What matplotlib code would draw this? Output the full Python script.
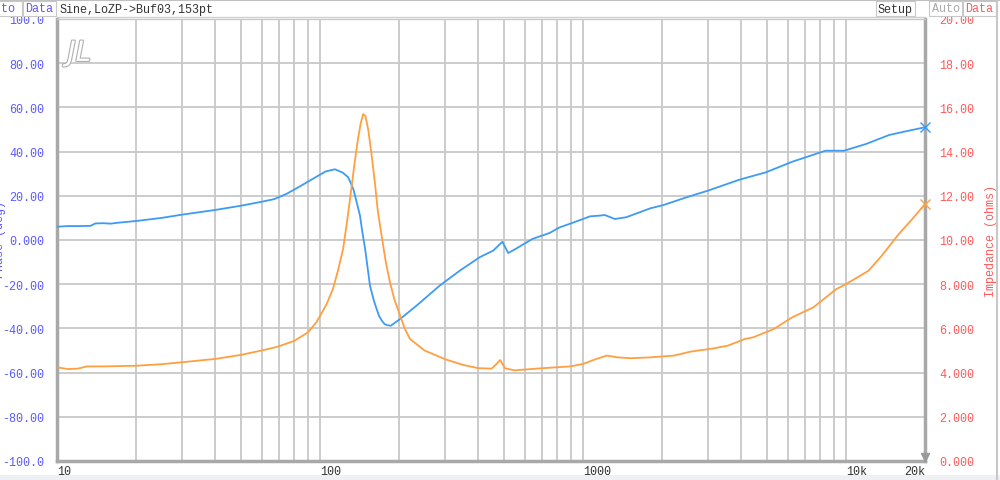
import numpy as np
import matplotlib
matplotlib.use("Agg")
import matplotlib.pyplot as plt
from matplotlib.ticker import NullLocator
import matplotlib.patheffects as pe
from matplotlib.patches import Rectangle

# ---- data ----
phase_freq = [10, 11, 12, 13.4, 14, 15, 16, 17, 20, 25, 30, 40, 50, 60, 67, 75, 84, 95, 105,
              114, 122, 128, 134, 138, 142, 145, 148.5, 155, 160, 164, 168, 172, 176, 180,
              186, 202, 233, 285, 340, 405, 456, 494, 520, 559, 643, 748, 815, 900, 1000,
              1064, 1150, 1212, 1323, 1462, 1801, 2022, 2475, 2985, 3940, 4960, 6250, 7660,
              8370, 9850, 11900, 14600, 17400, 20000]
phase_deg = [6.0, 6.3, 6.3, 6.4, 7.5, 7.6, 7.4, 7.8, 8.6, 10.0, 11.5, 13.6, 15.5, 17.3, 18.5,
             21.0, 24.3, 28.0, 31.0, 32.0, 30.5, 28.4, 23.0, 17.0, 11.0, 3.5, -4.0, -20.7,
             -27.0, -31.0, -34.5, -36.5, -38.0, -38.5, -38.8, -35.7, -29.7, -20.7, -13.9,
             -7.8, -4.8, -0.8, -5.9, -3.8, 0.5, 3.2, 5.7, 7.5, 9.5, 10.7, 11.0, 11.3, 9.5,
             10.3, 14.3, 15.8, 19.3, 22.3, 27.3, 30.6, 35.4, 38.9, 40.4, 40.4, 43.4, 47.5,
             49.5, 51.0]

imp_freq = [10, 11, 12, 13, 15, 20, 25, 30, 40, 50, 60, 69, 80, 90, 97, 101, 106, 112, 117,
            122.5, 127, 131.6, 135.5, 139.5, 143, 146, 149, 152.6, 157, 161.8, 166, 171.6,
            178, 184.6, 192, 202, 210, 220, 250, 300, 350, 400, 450, 470, 485, 505, 550,
            684, 794, 894, 1000, 1126, 1234, 1354, 1525, 1801, 2220, 2570, 3160, 3560,
            4130, 4450, 5320, 6250, 7520, 8250, 9200, 10000, 12200, 13700, 15900, 17900,
            20000]
imp_ohm = [4.24, 4.16, 4.18, 4.28, 4.28, 4.31, 4.38, 4.47, 4.62, 4.8, 5.0, 5.17, 5.44, 5.82,
           6.28, 6.65, 7.1, 7.78, 8.6, 9.6, 10.9, 12.3, 13.5, 14.57, 15.3, 15.7, 15.6, 15.0,
           13.9, 12.6, 11.3, 10.2, 9.0, 8.09, 7.3, 6.57, 6.0, 5.52, 5.0, 4.6, 4.35, 4.2,
           4.18, 4.4, 4.57, 4.2, 4.1, 4.19, 4.24, 4.28, 4.39, 4.62, 4.77, 4.69, 4.65, 4.69,
           4.77, 4.95, 5.1, 5.22, 5.52, 5.6, 5.97, 6.5, 6.95, 7.33, 7.78, 8.0, 8.61, 9.29,
           10.27, 10.95, 11.63]

left_ticks = [100, 80, 60, 40, 20, 0, -20, -40, -60, -80, -100]
left_labels = ["100.0", "80.00", "60.00", "40.00", "20.00", "0.000", "-20.00", "-40.00",
               "-60.00", "-80.00", "-100.0"]
right_ticks = [20, 18, 16, 14, 12, 10, 8, 6, 4, 2, 0]
right_labels = ["20.00", "18.00", "16.00", "14.00", "12.00", "10.00", "8.000", "6.000",
                "4.000", "2.000", "0.000"]
x_ticks = [10, 100, 1000, 10000, 20000]
x_labels = ["10", "100", "1000", "10k", "20k"]

title = "Sine,LoZP->Buf03,153pt"

BLUE = "#3d9bf5"
ORANGE = "#ff9f40"
LBLUE = "#5a5aff"
RED = "#ff5a5a"
GRID = "#c8c8c8"
FRAME = "#a8a8a8"
MONO = "Liberation Mono"
FS = 8.5

fig = plt.figure(figsize=(10, 4.81), dpi=100)
W, H = 1000, 481

def fx(px):
    return px / W

def fy(py):
    return 1 - py / H

ax = fig.add_axes([fx(57), fy(462), fx(925) - fx(57), fy(20) - fy(462)])
ax.set_xscale("log")
ax.set_xlim(10, 20000)
ax.set_ylim(-100, 100)

minors = [m * 10 ** e for e in range(1, 5) for m in range(2, 10) if m * 10 ** e < 20000]
for v in minors + [100, 1000, 10000]:
    ax.axvline(v, color=GRID, lw=1.3, zorder=0)
for v in left_ticks[1:-1]:
    ax.axhline(v, color=GRID, lw=1.3, zorder=0)

ax.xaxis.set_major_locator(NullLocator())
ax.xaxis.set_minor_locator(NullLocator())
ax.set_yticks(left_ticks)
ax.set_yticklabels(left_labels)
ax.tick_params(axis="y", length=0, pad=9, labelsize=FS, labelcolor=LBLUE)
for lab in ax.get_yticklabels():
    lab.set_fontfamily(MONO)

ax.spines["top"].set_color(GRID)
ax.spines["top"].set_linewidth(1.0)
for s in ["left", "bottom", "right"]:
    ax.spines[s].set_color(FRAME)
    ax.spines[s].set_linewidth(2.5)

ax.plot(phase_freq, phase_deg, color=BLUE, lw=1.3, zorder=3)
ax.plot([phase_freq[-1]], [phase_deg[-1]], marker="x", color=BLUE, ms=7, mew=1.0,
        clip_on=False, zorder=4)

ax2 = ax.twinx()
ax2.set_ylim(0, 20)
ax2.set_yticks(right_ticks)
ax2.set_yticklabels(right_labels)
ax2.tick_params(axis="y", length=0, pad=10, labelsize=FS, labelcolor=RED)
for lab in ax2.get_yticklabels():
    lab.set_fontfamily(MONO)
for s in ax2.spines.values():
    s.set_visible(False)
ax2.plot(imp_freq, imp_ohm, color=ORANGE, lw=1.3, zorder=3)
ax2.plot([imp_freq[-1]], [imp_ohm[-1]], marker="x", color=ORANGE, ms=7, mew=1.0,
         clip_on=False, zorder=4)
ax2.set_ylabel("Impedance (ohms)", color=RED, fontsize=FS, family=MONO, labelpad=8)

# x tick labels, left aligned at the grid line, just below the frame
for v, t in zip(x_ticks, x_labels):
    ha = "left" if v < 20000 else "right"
    ax.annotate(t, xy=(v, 0), xycoords=ax.get_xaxis_transform(), xytext=(0, -3),
                textcoords="offset points", ha=ha, va="top", fontsize=FS, family=MONO,
                color="#333333", annotation_clip=False)

# bottom arrow marker
ax.plot([20000], [-98], marker="v", color="#9a9a9a", ms=6, clip_on=False, zorder=5)

# left partial label (cut off at the figure edge)
fig.text(0.0, fy(240), "Phase (deg)", rotation=90, ha="center", va="center",
         color=LBLUE, fontsize=FS, family=MONO)

# logo
ax.text(0.012, 0.955, "JL", transform=ax.transAxes, ha="left", va="top", fontsize=20,
        style="italic", color="white", family="DejaVu Sans",
        path_effects=[pe.withStroke(linewidth=1.6, foreground="#b0b0b0")], zorder=5)

# header bar
fig.add_artist(plt.Line2D([0, 1], [fy(0.5), fy(0.5)], color="#c0c0c0", lw=1.5))
fig.add_artist(plt.Line2D([fx(57), fx(925)], [fy(18), fy(18)], color="#d0d0d0", lw=1))

def button(x0, x1, text, color, edge="#c8c8c8"):
    fig.patches.append(Rectangle((fx(x0), fy(17)), fx(x1) - fx(x0), fy(2) - fy(17),
                                 transform=fig.transFigure, facecolor="white",
                                 edgecolor=edge, lw=0.8))
    fig.text((fx(x0) + fx(x1)) / 2, fy(9.5), text, ha="center", va="center",
             color=color, fontsize=FS, family=MONO)

button(-20, 22, "Auto", LBLUE)
button(23, 56, "Data", LBLUE)
fig.text(fx(60), fy(9.5), title, ha="left", va="center", color="#333333", fontsize=FS,
         family=MONO)
button(876, 915, "Setup", "#333333")
button(929, 962, "Auto", "#aaaaaa")
button(963, 996, "Data", RED)

# bottom strip
fig.patches.append(Rectangle((0, 0), 1, fy(476), transform=fig.transFigure,
                             facecolor="#eef0f3", edgecolor="none", zorder=-1))
fig.add_artist(plt.Line2D([fx(997), fx(997)], [0, 1], color="#c8c8c8", lw=1.5))

fig.savefig("out.png", dpi=100, facecolor="white")
